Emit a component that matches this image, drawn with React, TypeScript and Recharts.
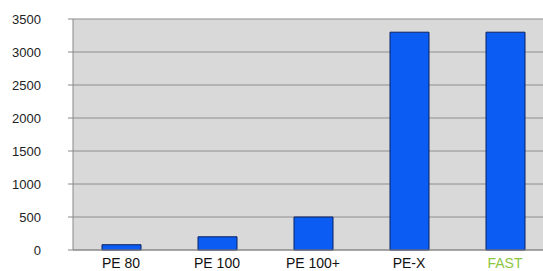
import { BarChart, Bar, XAxis, YAxis, CartesianGrid } from 'recharts';

const categories = ['PE 80', 'PE 100', 'PE 100+', 'PE-X', 'FAST'];
const values = [80, 200, 500, 3300, 3300];
const yTicks = [0, 500, 1000, 1500, 2000, 2500, 3000, 3500];
const labelColors = ['#111111', '#111111', '#111111', '#111111', '#8cc63f'];

const data = categories.map((name, i) => ({ name, value: values[i] }));

const font = '"Liberation Sans", Arial, sans-serif';

const XTick = (props: any) => {
  const { x, payload, index } = props;
  return (
    <text x={x} y={268} textAnchor="middle" fontSize={14} fontFamily={font} fill={labelColors[index] || '#111'}>
      {payload.value}
    </text>
  );
};

export default function App() {
  return (
    <div style={{ position: 'fixed', top: 0, left: 0, width: 543, height: 271, overflow: 'hidden', background: '#fff' }}>
      <BarChart
        width={560}
        height={271}
        data={data}
        margin={{ top: 19, right: 7, left: 0, bottom: 0 }}
        barSize={39}
      >
        <CartesianGrid vertical={false} stroke="#8e8e8e" fill="#d9d9d9" />
        <XAxis
          dataKey="name"
          height={21}
          stroke="#888"
          tickLine={false}
          tick={<XTick />}
          interval={0}
        />
        <YAxis
          width={73}
          domain={[0, 3500]}
          ticks={yTicks}
          interval={0}
          stroke="#888"
          tickSize={5}
          tickMargin={27}
          tick={{ fontSize: 13, fontFamily: font, fill: '#222' }}
        />
        <Bar dataKey="value" fill="#0a5cf2" stroke="#0a2060" strokeWidth={1} isAnimationActive={false} />
      </BarChart>
    </div>
  );
}
